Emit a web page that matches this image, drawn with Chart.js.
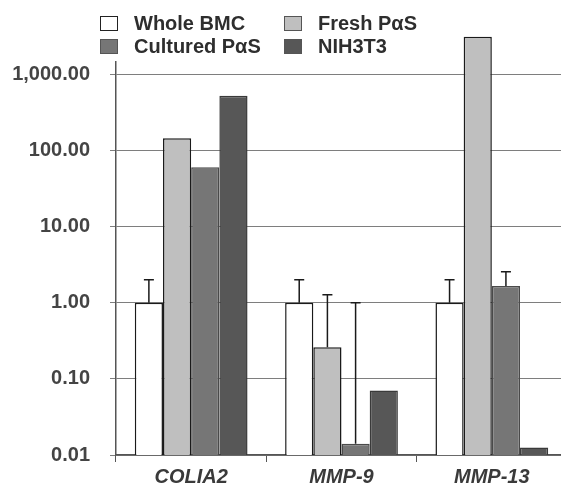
<!DOCTYPE html>
<html>
<head>
<meta charset="utf-8">
<script src="https://cdn.jsdelivr.net/npm/chart.js@4"></script>
<style>
  html, body { margin:0; padding:0; background:#fff; overflow:hidden; width:561px; height:487px; }
  #wrap { position:relative; width:570px; height:487px; }
  #legend { position:absolute; left:100px; top:15px; display:grid; grid-template-columns:184px 200px; row-gap:6px;
            font-family:"Liberation Sans", Arial, sans-serif; font-weight:bold; font-size:20px; color:#2e2e2e; }
  .item { display:flex; align-items:center; height:17px; white-space:nowrap; }
  .box { width:18px; height:15px; margin-right:16px; box-sizing:border-box; border:1.5px solid #222; }
</style>
</head>
<body>
<div id="wrap">
  <canvas id="c" width="570" height="487"></canvas>
  <div id="legend"></div>
</div>
<script>
const categories = ['COLIA2', 'MMP-9', 'MMP-13'];
const seriesNames = ['Whole BMC', 'Fresh P\u03B1S', 'Cultured P\u03B1S', 'NIH3T3'];
const wholeBMC   = [1.0, 1.0, 1.0];
const freshPaS   = [144, 0.26, 3100];
const culturedPaS= [60, 0.014, 1.65];
const nih3t3     = [520, 0.07, 0.0125];
const wholeBMCErr   = [2.0, 2.0, 2.0];
const freshPaSErr   = [null, 1.27, null];
const culturedPaSErr= [null, 1.0, 2.55];
const nih3t3Err     = [null, null, null];
const tickValues = [0.01, 0.1, 1, 10, 100, 1000];
const tickLabels = ['0.01', '0.10', '1.00', '10.00', '100.00', '1,000.00'];

const fills   = ['#ffffff', '#bfbfbf', '#767676', '#575757'];
const borders = ['#1a1a1a', '#1a1a1a', '#4a4a4a', '#3a3a3a'];
const values  = [wholeBMC, freshPaS, culturedPaS, nih3t3];
const errs    = [wholeBMCErr, freshPaSErr, culturedPaSErr, nih3t3Err];

const datasets = values.map((v, i) => ({
  label: seriesNames[i],
  data: v,
  errUp: errs[i],
  backgroundColor: fills[i],
  borderColor: borders[i],
  borderWidth: 1.5,
  clip: false
}));

const lg = document.getElementById('legend');
[0, 1, 2, 3].forEach(i => {
  const d = document.createElement('div'); d.className = 'item';
  const b = document.createElement('span'); b.className = 'box';
  b.style.background = fills[i];
  b.style.borderColor = i === 0 ? '#222' : '#555';
  const t = document.createElement('span'); t.textContent = seriesNames[i];
  d.appendChild(b); d.appendChild(t); lg.appendChild(d);
});

const errorBars = {
  id: 'errorBars',
  afterDatasetsDraw(chart) {
    const ctx = chart.ctx, y = chart.scales.y;
    ctx.save();
    ctx.strokeStyle = '#1a1a1a';
    ctx.lineWidth = 1.5;
    chart.data.datasets.forEach((ds, i) => {
      const meta = chart.getDatasetMeta(i);
      meta.data.forEach((el, j) => {
        const e = ds.errUp && ds.errUp[j];
        if (e == null) return;
        const py = y.getPixelForValue(e);
        ctx.beginPath();
        ctx.moveTo(el.x, el.y);
        ctx.lineTo(el.x, py);
        ctx.moveTo(el.x - 5, py);
        ctx.lineTo(el.x + 5, py);
        ctx.stroke();
      });
    });
    ctx.restore();
  }
};

new Chart(document.getElementById('c'), {
  type: 'bar',
  data: { labels: categories, datasets },
  options: {
    responsive: false,
    animation: false,
    devicePixelRatio: 1,
    layout: { padding: { top: 62, right: 3, left: 0, bottom: 0 } },
    plugins: { legend: { display: false }, tooltip: { enabled: false } },
    datasets: { bar: { categoryPercentage: 0.75, barPercentage: 1.0 } },
    scales: {
      x: {
        offset: true,
        grid: { display: true, drawOnChartArea: false, drawTicks: true, tickLength: 7, color: '#555', offset: true },
        border: { display: true, color: '#555', width: 1.5 },
        ticks: { color: '#3a3a3a', padding: 3, font: { family: '"Liberation Sans", Arial, sans-serif', size: 20, weight: 'bold', style: 'italic' } },
        afterFit(s) { s.height = 32; }
      },
      y: {
        type: 'logarithmic',
        min: 0.01,
        max: 1440,
        afterBuildTicks(s) { s.ticks = tickValues.map(v => ({ value: v, major: false })); },
        grid: { color: '#7e7e7e', lineWidth: 1, tickLength: 6, drawTicks: true },
        border: { display: true, color: '#555', width: 1.5 },
        ticks: {
          color: '#444', padding: 20,
          font: { family: '"Liberation Sans", Arial, sans-serif', size: 20, weight: 'bold' },
          callback(v) { const k = tickValues.indexOf(v); return k >= 0 ? tickLabels[k] : ''; }
        },
        afterFit(s) { s.width = 116; }
      }
    }
  },
  plugins: [errorBars]
});
</script>
</body>
</html>
